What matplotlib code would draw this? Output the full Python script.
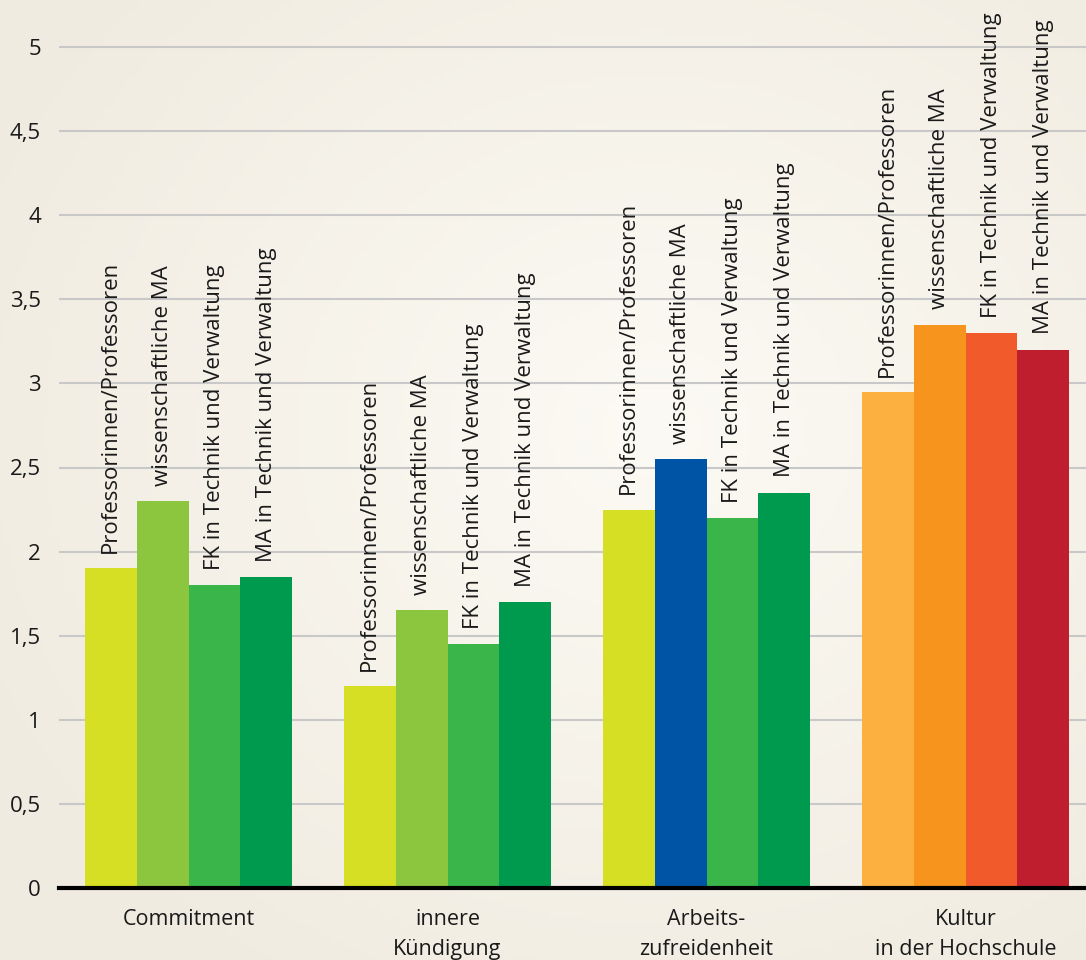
import matplotlib.pyplot as plt
import numpy as np

categories = ["Commitment", "innere\nKündigung", "Arbeits-\nzufreidenheit", "Kultur\nin der Hochschule"]
groups = ["Professorinnen/Professoren", "wissenschaftliche MA",
          "FK in Technik und Verwaltung", "MA in Technik und Verwaltung"]
values = [
    [1.90, 2.30, 1.80, 1.85],
    [1.20, 1.65, 1.45, 1.70],
    [2.25, 2.55, 2.20, 2.35],
    [2.95, 3.35, 3.30, 3.20],
]
colors = [
    ["#d6df23", "#8cc63f", "#39b54a", "#009a4e"],
    ["#d6df23", "#8cc63f", "#39b54a", "#009a4e"],
    ["#d6df23", "#0054a6", "#39b54a", "#009a4e"],
    ["#fbb040", "#f7941d", "#f15a2b", "#be1e2d"],
]
yticks = [0, 0.5, 1, 1.5, 2, 2.5, 3, 3.5, 4, 4.5, 5]
ytick_labels = ["0", "0,5", "1", "1,5", "2", "2,5", "3", "3,5", "4", "4,5", "5"]

plt.rcParams['font.family'] = ['Open Sans', 'DejaVu Sans']

fig = plt.figure(figsize=(10.86, 9.6), dpi=100)
fig.patch.set_facecolor("#f5f2ea")

# soft beige vignette in the background
bg = fig.add_axes([0, 0, 1, 1], zorder=-10)
gx, gy = np.meshgrid(np.linspace(-1, 1, 200), np.linspace(-1, 1, 200))
r = np.clip(np.sqrt((gx - 0.2) ** 2 + (gy + 0.1) ** 2) / 1.4, 0, 1)
c0 = np.array([0xfc, 0xfa, 0xf4]) / 255
c1 = np.array([0xf0, 0xeb, 0xe0]) / 255
img = c0[None, None, :] * (1 - r[..., None]) + c1[None, None, :] * r[..., None]
bg.imshow(img, aspect="auto", extent=[0, 1, 0, 1])
bg.axis("off")

ax = fig.add_axes([59 / 1086, 72 / 960, 1027 / 1086, 888 / 960])
ax.set_facecolor("none")

w = 0.2
x = np.arange(len(categories))
for i in range(len(categories)):
    for j in range(len(groups)):
        xpos = x[i] + (j - 1.5) * w
        ax.bar(xpos, values[i][j], width=w, color=colors[i][j], zorder=2)
        ax.annotate(groups[j], (xpos, values[i][j]), xytext=(0, 11),
                    textcoords="offset points", rotation=90,
                    ha="center", va="bottom", fontsize=16, color="#1a1a1a")

ax.set_xlim(-0.5, 3.465)
ax.set_ylim(0, 888 / 168.2)
ax.set_yticks(yticks)
ax.set_yticklabels(ytick_labels, fontsize=16, color="#1a1a1a")
ax.set_xticks(x)
ax.set_xticklabels(categories, fontsize=15.5, color="#1a1a1a", linespacing=1.6)
ax.tick_params(axis="y", length=0, pad=13)
ax.tick_params(axis="x", length=0, pad=15)
ax.grid(axis="y", color="#c8c8c8", linewidth=1.5, zorder=0)
for s in ["left", "right", "top"]:
    ax.spines[s].set_visible(False)
ax.spines["bottom"].set_linewidth(3)
ax.spines["bottom"].set_color("black")
ax.spines["bottom"].set_zorder(3)

fig.savefig("out.png", dpi=100, facecolor=fig.get_facecolor())
